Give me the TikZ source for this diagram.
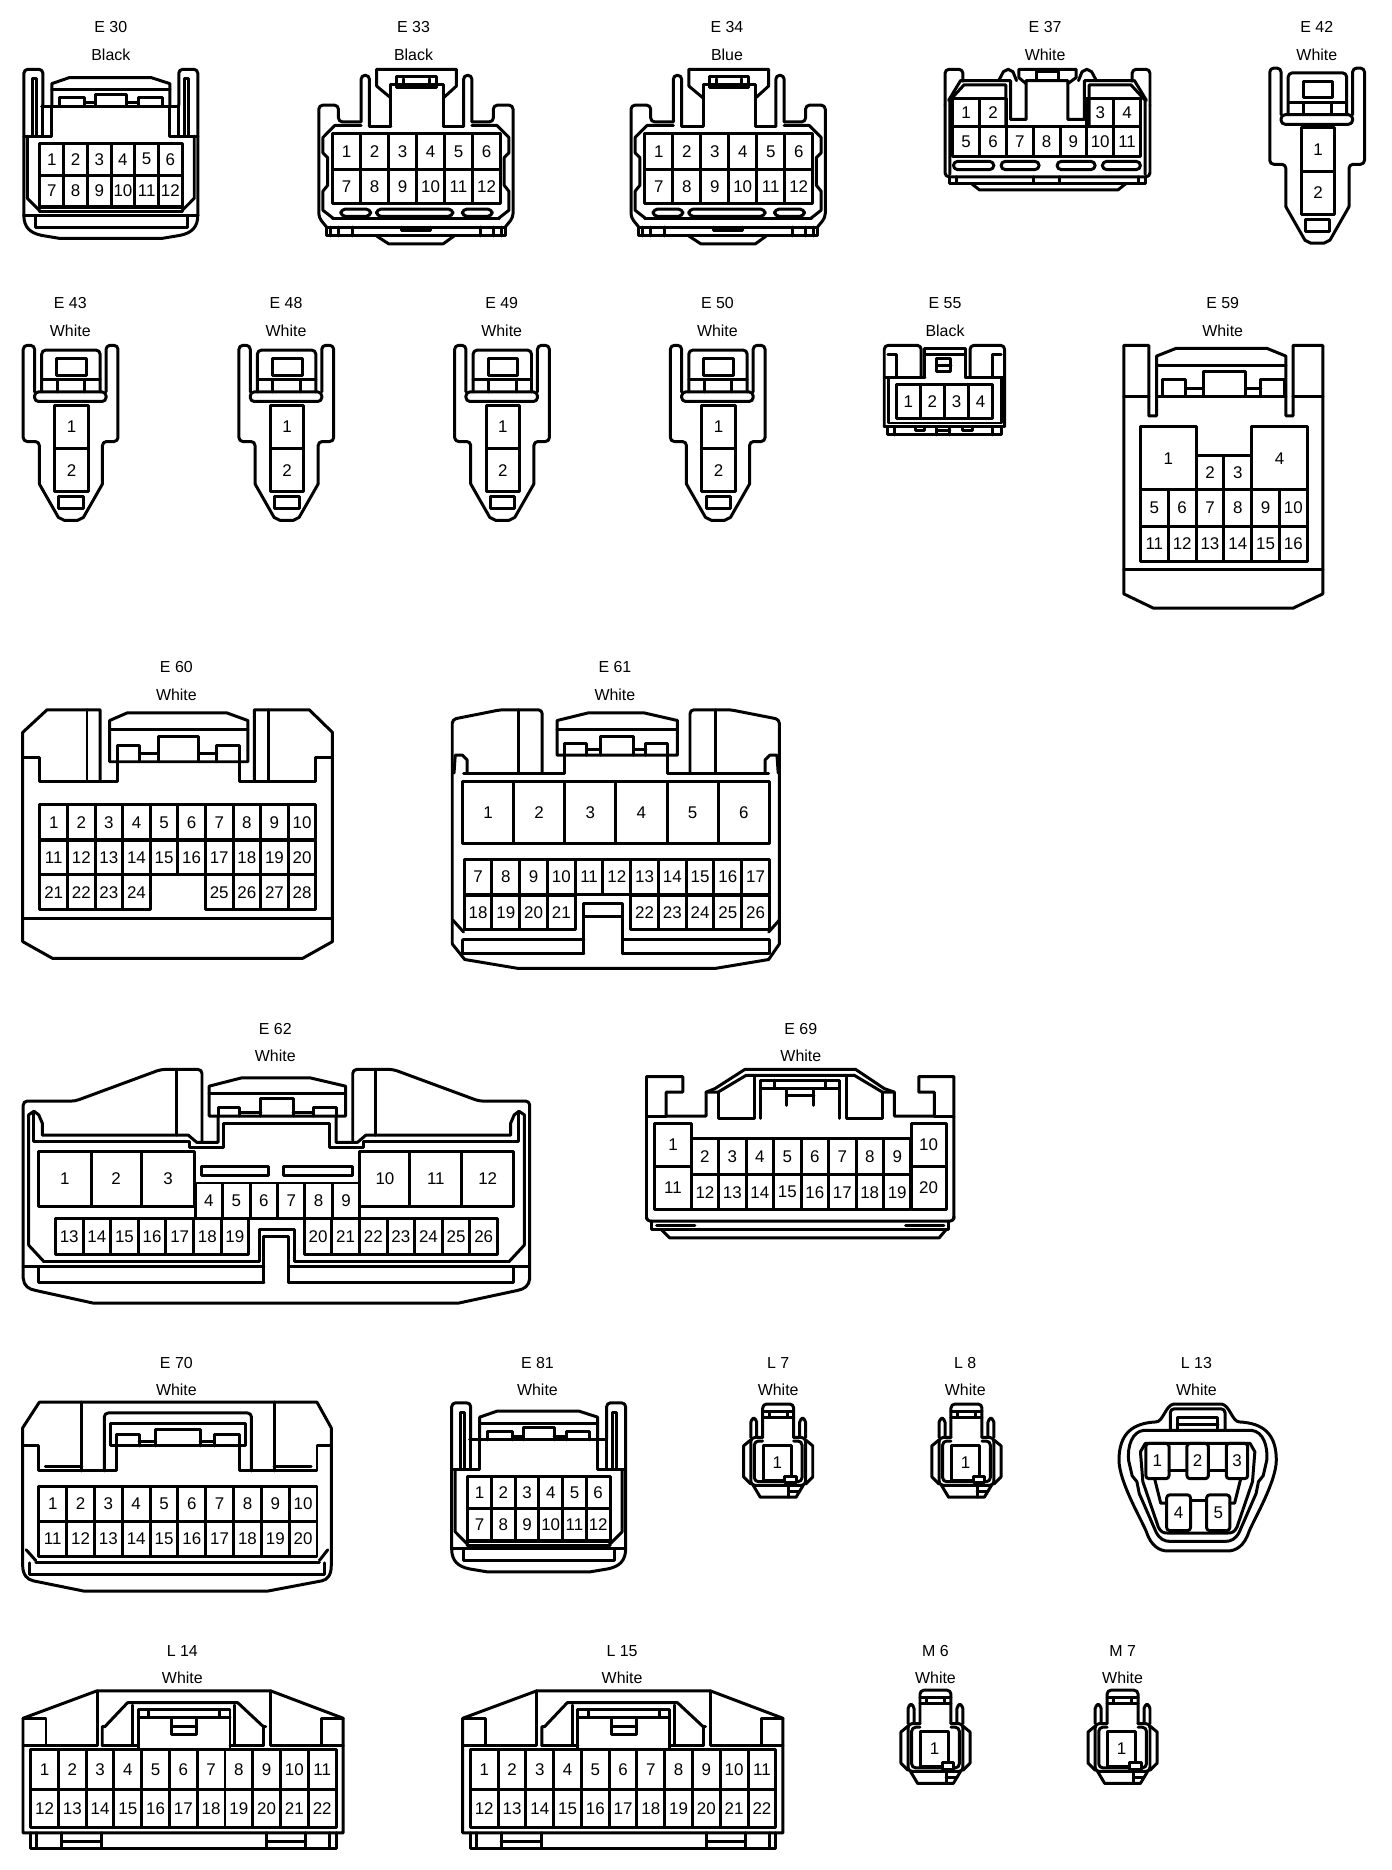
\documentclass[tikz,border=0pt]{standalone}
\usepackage{fontspec}
\setmainfont{Liberation Sans}
\def\upx{0.5984pt}
\tikzset{
  pinbox/.style={draw, rectangle, inner sep=0pt, outer sep=0pt, font=\fontsize{8.5}{10}\selectfont},
  tagtext/.style={inner sep=0pt, font=\fontsize{8}{10}\selectfont},
  roundpart/.style={rounded corners=2pt},
  slotpart/.style={rounded corners=2.2pt}
}
% prefix, x left, y top, cell width, cell height, first number, count
\newcommand{\pinrow}[7]{%
  \foreach \k in {1,...,#7}{%
    \pgfmathtruncatemacro{\num}{#6+\k-1}%
    \node[pinbox, minimum width={#4*\upx}, minimum height={#5*\upx}] (#1p\num)
      at ({#2+(\k-1)*#4+#4/2},{#3+#5/2}) {\num};
  }}
% one big cell with its own box
\newcommand{\pincell}[6]{%
  \node[pinbox, minimum width={(#4-#2)*\upx}, minimum height={(#5-#3)*\upx}] (#1p#6)
    at ({(#2+#4)/2},{(#3+#5)/2}) {#6};}
% name, x, y of first line, two texts
\newcommand{\conntag}[5]{%
  \node[tagtext] (#1t) at (#2,#3) {#4};
  \node[tagtext] (#1c) at (#2,#3+23) {#5};}

% E 30 and E 81
\newcommand{\latchhousing}[3]{%
  \begin{scope}[shift={(#2,#3)}]
    \draw[roundpart] (20,180) -- (20,58) -- (36,58) -- (36,88);
    \draw[roundpart] (166,180) -- (166,58) -- (150,58) -- (150,88);
    \draw (27.5,114) -- (27.5,66) -- (31,66) -- (31,114);
    \draw (158.5,114) -- (158.5,66) -- (155,66) -- (155,114);
    \draw (43.5,89) -- (43.5,70) -- (58,65) -- (127,65) -- (142.5,70) -- (142.5,89);
    \draw (43.5,75) -- (142.5,75);
    \draw (35,89) -- (150,89);
    \draw (50,89) -- (50,82) -- (71,82) -- (71,89);
    \draw (80,89) -- (80,79) -- (106,79) -- (106,89);
    \draw (116,89) -- (116,82) -- (136,82) -- (136,89);
    \draw (71,86) -- (80,86) (106,86) -- (116,86);
    \draw (36,88) -- (36,114) (43.5,89) -- (43.5,114) -- (20,114);
    \draw (150,88) -- (150,114) (142.5,89) -- (142.5,114) -- (166,114);
    \draw (23,114) -- (23,166) -- (34,177);
    \draw (163,114) -- (163,166) -- (152,177);
    \draw (33,174) -- (153,174) (33,177) -- (153,177);
    \draw (20,180) -- (166,180);
    \draw (30,180) rectangle (157,190);
    \draw (20,180) .. controls (20,190) and (25,195) .. (35,197) -- (50,199.5) -- (136,199.5) -- (151,197) .. controls (161,195) and (166,190) .. (166,180);
    \pinrow{#1a}{33.5}{120}{19.9}{26.5}{1}{6}
    \pinrow{#1b}{33.5}{146.5}{19.9}{26.5}{7}{6}
  \end{scope}}

% E 33 and E 34
\newcommand{\widehousing}[3]{%
  \begin{scope}[shift={(#2,#3)}]
    \draw (316,72) -- (316,58) -- (383,58) -- (383,72) -- (372,82);
    \draw (316,72) -- (328,82);
    \draw (333,64) rectangle (366,73);
    \draw (339,66) -- (339,72) (360,66) -- (360,72);
    \draw (328,105.5) -- (328,71) -- (372,71) -- (372,105.5);
    \draw (310,105.5) -- (328,105.5) (372,105.5) -- (389,105.5);
    \draw[roundpart] (303,102) -- (303,63) -- (310,63) -- (310,105.5);
    \draw[roundpart] (389,105.5) -- (389,63) -- (396,63) -- (396,102);
    \draw[roundpart] (303,102) -- (284,102) -- (284,88) -- (267.5,88) -- (267.5,182) -- (274,190);
    \draw[roundpart] (396,102) -- (414,102) -- (414,88) -- (430.5,88) -- (430.5,182) -- (424,190);
    \draw (303,105) -- (281,105) -- (271,115) -- (271,128) -- (275,132) -- (275,155) -- (271,160) -- (271,176) -- (280,183);
    \draw (396,105) -- (417,105) -- (427,115) -- (427,128) -- (423,132) -- (423,155) -- (427,160) -- (427,176) -- (418,183);
    \pinrow{#1a}{279}{112}{23.5}{30}{1}{6}
    \pinrow{#1b}{279}{142}{23.5}{28}{7}{6}
    \draw[slotpart] (286,175) rectangle (311,181);
    \draw[slotpart] (316,175) rectangle (380,181);
    \draw[slotpart] (388,175) rectangle (413,181);
    \draw (279,183) -- (419,183);
    \draw (274,190) -- (424,190) -- (424,197.5) -- (274,197.5) -- cycle;
    \draw (277,190) -- (277,197.5) (284,190) -- (284,197.5) (296,190) -- (296,197.5);
    \draw (421,190) -- (421,197.5) (414,190) -- (414,197.5) (403,190) -- (403,197.5);
    \draw (337,190) -- (337,193) -- (361,193) -- (361,190);
    \draw (316,197.5) -- (326,204) -- (372,204) -- (381,197.5);
  \end{scope}}

% E 42, E 43, E 48, E 49, E 50
\newcommand{\plugtwo}[3]{%
  \begin{scope}[shift={(#2,#3)}]
    \draw[roundpart] (29,328) -- (29,289) -- (19.5,289) -- (19.5,369.5) -- (33,369.5) -- (33,405);
    \draw[roundpart] (89,328) -- (89,289) -- (99,289) -- (99,369.5) -- (86,369.5) -- (86,405);
    \draw (33,405) -- (49,433) -- (54,435.5) -- (65,435.5) -- (70,433) -- (86,405);
    \draw[roundpart] (35,328) -- (35,293) -- (84,293) -- (84,328);
    \draw (47.5,300) rectangle (72.5,314);
    \draw (35,318) -- (84,318);
    \draw (48,318) -- (48,328) (71,318) -- (71,328);
    \draw[roundpart] (29,328) -- (29,336) -- (89,336) -- (89,328) -- cycle;
    \pinrow{#1a}{46}{339}{28}{36.5}{1}{1}
    \pinrow{#1b}{46}{375.5}{28}{36}{2}{1}
    \draw (49.5,415.5) rectangle (70,425.5);
  \end{scope}}

% L 7, L 8, M 6, M 7
\newcommand{\plugone}[3]{%
  \begin{scope}[shift={(#2,#3)}]
    \draw[roundpart] (640,1203) -- (640,1175) -- (666,1175) -- (666,1203);
    \draw (640,1181.5) -- (666,1181.5) (640,1186) -- (666,1186);
    \draw (645.5,1181.5) -- (645.5,1186) (660.5,1181.5) -- (660.5,1186);
    \draw[roundpart] (630,1203) -- (630,1187) -- (635,1187) -- (635,1203);
    \draw[roundpart] (671,1203) -- (671,1187) -- (676,1187) -- (676,1203);
    \draw (630,1205) -- (624,1210) -- (624,1236) -- (630,1242);
    \draw (676,1205) -- (682,1210) -- (682,1236) -- (676,1242);
    \draw[roundpart] (640,1203) -- (630,1203) -- (630,1243) -- (676,1243) -- (676,1203) -- (666,1203);
    \draw[roundpart] (640,1206) -- (633,1206) -- (633,1240) -- (673,1240) -- (673,1206) -- (666,1206);
    \pinrow{#1a}{640.5}{1209.5}{23.5}{29.5}{1}{1}
    \draw[fill=white] (658.5,1235.5) rectangle (668.5,1241);
    \draw (632,1243) -- (638,1253) -- (668,1253) -- (674,1243);
    \draw (662,1243) -- (662,1253) (662,1248) -- (671,1248);
  \end{scope}}

% L 14, L 15
\newcommand{\boxhousing}[3]{%
  \begin{scope}[shift={(#2,#3)}]
    \draw (19.3,1534) -- (19.3,1438) -- (81.5,1415) -- (227,1415) -- (288,1438) -- (288,1534) -- cycle;
    \draw (19.3,1438) -- (38.6,1438) -- (38.6,1461) (288,1438) -- (270,1438) -- (270,1461);
    \draw (19.3,1461) -- (81.5,1461) -- (81.5,1415) (288,1461) -- (227,1461) -- (227,1415);
    \draw (85.8,1461) -- (85.8,1445) -- (88,1445) -- (107,1425) -- (199.5,1425) -- (221,1445) -- (223,1445);
    \draw (221,1445) -- (221,1461);
    \draw (85.8,1461) -- (116,1461) (193,1461) -- (221,1461);
    \draw (111,1427) -- (111,1461) (197,1427) -- (197,1461);
    \draw (116,1464) -- (116,1431) -- (193,1431) -- (193,1464);
    \draw (116,1437.5) -- (193,1437.5) (125,1431) -- (125,1437.5) (184,1431) -- (184,1437.5);
    \draw (144,1437.5) -- (144,1451.5) -- (165,1451.5) -- (165,1437.5) (144,1445) -- (165,1445);
    \pinrow{#1a}{25.7}{1464}{23.3}{33.5}{1}{11}
    \pinrow{#1b}{25.7}{1497.5}{23.3}{32}{12}{11}
    \draw (25.7,1534) -- (25.7,1547) -- (282,1547) -- (282,1534);
    \draw (31,1534) -- (31,1547) (276.5,1534) -- (276.5,1547);
    \draw (51.5,1534) -- (51.5,1547) (85,1534) -- (85,1547) (51.5,1541) -- (85,1541);
    \draw (224,1534) -- (224,1547) (256.5,1534) -- (256.5,1547) (224,1541) -- (256.5,1541);
  \end{scope}}

\begin{document}
\begin{tikzpicture}[x=\upx, y=-0.6pt, line width=1.5pt, line cap=round, line join=round]
  \useasboundingbox (0,0) rectangle (1168,1565);

  % Tags
  \conntag{ea}{93}{22.5}{E 30}{Black}
  \conntag{eb}{347}{22.5}{E 33}{Black}
  \conntag{ec}{610}{22.5}{E 34}{Blue}
  \conntag{ed}{877}{22.5}{E 37}{White}
  \conntag{ee}{1105}{22.5}{E 42}{White}
  \conntag{ef}{59}{253.5}{E 43}{White}
  \conntag{eg}{240}{253.5}{E 48}{White}
  \conntag{eh}{421}{253.5}{E 49}{White}
  \conntag{ei}{602}{253.5}{E 50}{White}
  \conntag{ej}{793}{253.5}{E 55}{Black}
  \conntag{ek}{1026}{253.5}{E 59}{White}
  \conntag{el}{148}{558.5}{E 60}{White}
  \conntag{em}{516}{558.5}{E 61}{White}
  \conntag{en}{231}{861}{E 62}{White}
  \conntag{eo}{672}{861}{E 69}{White}
  \conntag{ep}{148}{1140.5}{E 70}{White}
  \conntag{eq}{451}{1140.5}{E 81}{White}
  \conntag{la}{653}{1140.5}{L 7}{White}
  \conntag{lb}{810}{1140.5}{L 8}{White}
  \conntag{lc}{1004}{1140.5}{L 13}{White}
  \conntag{ld}{153}{1381.5}{L 14}{White}
  \conntag{le}{522}{1381.5}{L 15}{White}
  \conntag{ma}{785}{1381.5}{M 6}{White}
  \conntag{mb}{942}{1381.5}{M 7}{White}

  % Repeated housings
  \latchhousing{ea}{0}{0}
  \latchhousing{eq}{359}{1116}
  \widehousing{eb}{0}{0}
  \widehousing{ec}{262}{0}
  \plugtwo{ee}{1046}{-232}
  \plugtwo{ef}{0}{0}
  \plugtwo{eg}{181}{0}
  \plugtwo{eh}{362}{0}
  \plugtwo{ei}{543}{0}
  \plugone{la}{0}{0}
  \plugone{lb}{158}{0}
  \plugone{ma}{132}{239.5}
  \plugone{mb}{289}{239.5}
  \boxhousing{ld}{0}{0}
  \boxhousing{le}{369}{0}

  % E 37
  \draw[roundpart] (793,88) -- (793,58) -- (808,58) -- (808,68);
  \draw[roundpart] (965,88) -- (965,58) -- (950,58) -- (950,68);
  \draw (796,84) -- (806,67.5) -- (848,67.5) -- (848,100) -- (861,100) -- (861,67.5) -- (896,67.5) -- (896,100) -- (910,100) -- (910,67.5) -- (952,67.5) -- (962,84);
  \draw (797,146) -- (797,84) -- (809,71) -- (844,71) -- (844,106) (914,106) -- (914,71) -- (949,71) -- (961,84) -- (961,146);
  \draw (838,67.5) -- (842,60) -- (846,58) -- (850,60) -- (853,67.5);
  \draw (905,67.5) -- (908,60) -- (912,58) -- (916,60) -- (920,67.5);
  \draw (861,70) -- (855,65) -- (855,58) -- (903,58) -- (903,65) -- (896,70);
  \draw (870,67) -- (870,60) -- (888,60) -- (888,67);
  \draw (866,67) -- (892,67);
  \pinrow{eda}{799.5}{82}{22.5}{24}{1}{2}
  \node[pinbox, minimum width={22.5*\upx}, minimum height={24*\upx}] (edp3) at (923.25,94) {3};
  \node[pinbox, minimum width={22.5*\upx}, minimum height={24*\upx}] (edp4) at (945.75,94) {4};
  \pinrow{edb}{799.5}{106}{22.5}{25}{5}{7}
  \draw[slotpart] (800,135) rectangle (834,142);
  \draw[slotpart] (840,135) rectangle (872,142);
  \draw[slotpart] (887,135) rectangle (919,142);
  \draw[slotpart] (925,135) rectangle (957,142);
  \draw[roundpart] (793,88) -- (793,148) -- (965,148) -- (965,88);
  \draw (797,148) -- (797,153.5) -- (961,153.5) -- (961,148);
  \draw (803,148) -- (803,153.5) (955,148) -- (955,153.5) (867.5,148) -- (867.5,153.5) (889,148) -- (889,153.5);
  \draw (815,153.5) -- (822,159) -- (938,159) -- (945,153.5);

  % E 55
  \draw[roundpart] (742,357) -- (742,289) -- (773,289) -- (773,316);
  \draw[roundpart] (843,357) -- (843,289) -- (814,289) -- (814,316);
  \draw (745,297) -- (752,297) -- (752,316) (840,297) -- (833,297) -- (833,316);
  \draw (776,316) -- (776,292) -- (810,292) -- (810,316);
  \draw (776,297) -- (810,297);
  \draw (786,300) rectangle (798,311) (786,305.5) -- (798,305.5);
  \draw (742,316) -- (776,316) (810,316) -- (843,316);
  \draw (745.5,316) -- (745.5,354) -- (840,354) -- (840,316);
  \pinrow{ej}{752}{321.5}{20.25}{28.5}{1}{4}
  \draw (742,357) -- (843,357);
  \draw (745,357) -- (745,364) -- (840,364) -- (840,357);
  \draw (751,357) -- (751,364) (833,357) -- (833,364);
  \draw (768,357) -- (768,360) -- (776,360) -- (776,357);
  \draw (786,357) -- (786,364) (797,357) -- (797,364) (786,360) -- (797,360);
  \draw (808,357) -- (808,360) -- (816,360) -- (816,357);

  % E 59
  \draw (964,331.5) -- (964,289) -- (943,289) -- (943,497) -- (968,509) -- (1085,509) -- (1110,497) -- (1110,289) -- (1085,289) -- (1085,331.5);
  \draw (964,331.5) -- (964,348) -- (970.5,348) -- (970.5,298) -- (987,291.5) -- (1063,291.5) -- (1079,298) -- (1079,348) -- (1085,348) -- (1085,331.5);
  \draw (943,331.5) -- (964,331.5) (970.5,331.5) -- (1079,331.5) (1085,331.5) -- (1110,331.5);
  \draw (970.5,305.5) -- (1079,305.5);
  \draw (975.5,331.5) -- (975.5,318) -- (995,318) -- (995,331.5);
  \draw (1010,331.5) -- (1010,311) -- (1045,311) -- (1045,331.5);
  \draw (1058,331.5) -- (1058,318) -- (1078,318) -- (1078,331.5);
  \draw (995,325) -- (1010,325) (1045,325) -- (1058,325);
  \draw (943,476.5) -- (1110,476.5);
  \pincell{ek}{957}{357}{1003.7}{410}{1}
  \pincell{ek}{1003.7}{381}{1027}{410}{2}
  \pincell{ek}{1027}{381}{1050.3}{410}{3}
  \pincell{ek}{1050.3}{357}{1097}{410}{4}
  \pinrow{ek}{957}{410}{23.33}{30.5}{5}{6}
  \pinrow{ek}{957}{440.5}{23.33}{29.5}{11}{6}

  % E 60
  \draw (19,634) -- (33.5,634) -- (33.5,654) -- (98.7,654) -- (98.7,637.5);
  \draw (279,634) -- (265,634) -- (265,654) -- (200.8,654) -- (200.8,637.5);
  \draw (19,788) -- (19,613) -- (39.5,594) -- (84,594) -- (84,654);
  \draw (279,788) -- (279,613) -- (259.5,594) -- (213.5,594) -- (213.5,654);
  \draw (73,594) -- (73,654) (225,594) -- (225,654);
  \draw (19,788) -- (44,802) -- (254,802) -- (279,788);
  \draw (92,637.5) -- (92,603) -- (107,596.5) -- (190,596.5) -- (208,603) -- (208,637.5) -- cycle;
  \draw (92,610.5) -- (208,610.5);
  \draw (98.7,637.5) -- (98.7,623.5) -- (117,623.5) -- (117,637.5);
  \draw (133,637.5) -- (133,616.5) -- (166.5,616.5) -- (166.5,637.5);
  \draw (182,637.5) -- (182,623.5) -- (200.8,623.5) -- (200.8,637.5);
  \draw (117,631) -- (133,631) (166.5,631) -- (182,631);
  \draw (19.5,768.5) -- (279,768.5);
  \pinrow{ela}{33.5}{673.5}{23.15}{29.5}{1}{10}
  \pinrow{elb}{33.5}{703}{23.15}{29}{11}{10}
  \pinrow{elc}{33.5}{732}{23.15}{29.5}{21}{4}
  \pinrow{eld}{172.4}{732}{23.15}{29.5}{25}{4}

  % E 61
  \draw[roundpart] (379.5,790) -- (379.5,602) -- (420,594) -- (455,594) -- (455,647);
  \draw[roundpart] (654,790) -- (654,602) -- (613,594) -- (579,594) -- (579,647);
  \draw (435.5,594) -- (435.5,647) (600.5,594) -- (600.5,647);
  \draw (389,647) -- (474,647) -- (474,630) (645,647) -- (560,647) -- (560,630);
  \draw (381,647) -- (382,632) -- (388,632) -- (392,636) -- (392,647);
  \draw (653,647) -- (652,632) -- (646,632) -- (642,636) -- (642,647);
  \draw (467.5,632) -- (467.5,603) -- (494,596.5) -- (540,596.5) -- (568.5,603) -- (568.5,632) -- cycle;
  \draw (467.5,610.5) -- (568.5,610.5);
  \draw (474,632) -- (474,622) -- (492,622) -- (492,632);
  \draw (504,632) -- (504,616) -- (532,616) -- (532,632);
  \draw (542,632) -- (542,622) -- (560,622) -- (560,632);
  \draw (492,627) -- (504,627) (532,627) -- (542,627);
  \pinrow{ema}{388}{654}{42.93}{52}{1}{6}
  \pinrow{emb}{389.5}{719}{23.29}{30}{7}{11}
  \pinrow{emc}{389.5}{749}{23.29}{29}{18}{4}
  \pinrow{emd}{529.2}{749}{23.29}{29}{22}{5}
  \draw (490,798) -- (490,756) -- (522.5,756) -- (522.5,798);
  \draw (490,767) -- (522.5,767);
  \draw (388.5,786.5) -- (388.5,798) -- (490,798) (388.5,786.5) -- (490,786.5);
  \draw (645.5,786.5) -- (645.5,798) -- (522.5,798) (645.5,786.5) -- (522.5,786.5);
  \draw (380,770) -- (389,780) (654,770) -- (645,780);
  \draw (379.5,790) -- (390,803) -- (435,810.5) -- (600,810.5) -- (645,803) -- (654,790);

  % E 62
  \draw[roundpart] (19.5,1070) -- (19.5,921.5) -- (63,921.5) -- (135,895) -- (169.5,895) -- (169.5,955);
  \draw[roundpart] (444.5,1070) -- (444.5,921.5) -- (402,921.5) -- (330,895) -- (296,895) -- (296,955);
  \draw (148.5,895) -- (148.5,950) (315.5,895) -- (315.5,950);
  \draw (24,1042) -- (24,933) -- (28.5,930) -- (32.5,933) -- (35.5,940) -- (35.5,950) -- (158,950) -- (165,956) -- (183,956) -- (183,934);
  \draw (440,1042) -- (440,933) -- (435.5,930) -- (431.5,933) -- (428.5,940) -- (428.5,950) -- (307,950) -- (300,956) -- (282,956) -- (282,934);
  \draw (28.5,930) -- (28.5,955) -- (159,955) -- (159,960) -- (187.5,960) -- (187.5,940) -- (276.5,940) -- (276.5,960) -- (305,960) -- (305,955) -- (435.5,955) -- (435.5,930);
  \draw (175.5,934) -- (175.5,909) -- (203,902) -- (260,902) -- (290,909) -- (290,934) -- cycle;
  \draw (175.5,915) -- (290,915);
  \draw (183,934) -- (183,927) -- (201,927) -- (201,934);
  \draw (219,934) -- (219,919) -- (246,919) -- (246,934);
  \draw (263,934) -- (263,927) -- (282,927) -- (282,934);
  \draw (201,931) -- (219,931) (246,931) -- (263,931);
  \pincell{en}{32.5}{963.5}{76.5}{1010}{1}
  \pincell{en}{76.5}{963.5}{118.5}{1010}{2}
  \pincell{en}{118.5}{963.5}{163.5}{1010}{3}
  \pincell{en}{302}{963.5}{344}{1010}{10}
  \pincell{en}{344}{963.5}{387.5}{1010}{11}
  \pincell{en}{387.5}{963.5}{431}{1010}{12}
  \draw (169,976) rectangle (225.5,984);
  \draw (238,976) rectangle (295.5,984);
  \pinrow{ena}{163.7}{990}{23.05}{30}{4}{6}
  \pinrow{enb}{46.5}{1020}{23.17}{30}{13}{7}
  \pinrow{enc}{255.3}{1020}{23.17}{30}{20}{7}
  \draw (37,1056) -- (218,1056) -- (218,1029) -- (247,1029) -- (247,1056) -- (427,1056);
  \draw (19.5,1060) -- (221.5,1060) (242.5,1060) -- (444.5,1060);
  \draw (221.5,1073.5) -- (221.5,1034.5) -- (242.5,1034.5) -- (242.5,1073.5);
  \draw (32.5,1060) -- (32.5,1073.5) -- (221.5,1073.5);
  \draw (431,1060) -- (431,1073.5) -- (242.5,1073.5);
  \draw (24,1042) -- (37,1056) (440,1042) -- (427,1056);
  \draw (19.5,1070) .. controls (20,1076) and (24,1079) .. (30,1080) -- (78,1090.5) -- (385,1090.5) -- (434,1080) .. controls (440,1079) and (444,1076) .. (444.5,1070);

  % E 69
  \draw[roundpart] (542.5,1018) -- (542.5,1022) -- (800.5,1022) -- (800.5,1018);
  \draw (542.5,1020) -- (542.5,901) -- (573,901) -- (573,914) -- (559,914) -- (559,934) -- (592.5,934) -- (592.5,914) -- (600,911) -- (625,895) -- (718,895) -- (742,911) -- (750.5,914) -- (750.5,934) -- (784,934) -- (784,914) -- (771,914) -- (771,901) -- (800.5,901) -- (800.5,1020);
  \draw (542.5,934) -- (559,934) (784,934) -- (800.5,934);
  \draw (592.5,914) -- (602.5,914) -- (626,900) -- (717,900) -- (740.5,914) -- (750.5,914);
  \draw (602.5,914) -- (602.5,936) -- (633,936) -- (633,901);
  \draw (740.5,914) -- (740.5,936) -- (710,936) -- (710,901);
  \draw (638.5,936) -- (638.5,904) -- (704.5,904) -- (704.5,936);
  \draw (638.5,911) -- (704.5,911) (650,904) -- (650,911) (693,904) -- (693,911);
  \draw (660,911) -- (660,925) (683,911) -- (683,925) (660,916.5) -- (683,916.5);
  \pincell{eo}{549.5}{940}{580}{976}{1}
  \pincell{eo}{549.5}{976}{580}{1012.5}{11}
  \pincell{eo}{764.5}{940}{794}{976}{10}
  \pincell{eo}{764.5}{976}{794}{1012.5}{20}
  \pinrow{eoa}{580}{952.5}{23.05}{30.5}{2}{8}
  \pinrow{eob}{580}{983}{23.05}{29.5}{12}{8}
  \draw (547,1022) -- (547,1029) -- (796,1029) -- (796,1022);
  \draw (551,1025.5) -- (583,1025.5) (760,1025.5) -- (792,1025.5);
  \draw (555,1029) -- (562,1036) -- (788,1036) -- (794,1029);

  % E 70
  \draw (19,1310) -- (19,1195) -- (33,1173.5) -- (266,1173.5) -- (278,1195) -- (278,1310);
  \draw (19,1210) -- (32.5,1210) -- (32.5,1231) -- (97.8,1231) -- (97.8,1210);
  \draw (278,1210) -- (266,1210) -- (266,1231) -- (200.8,1231) -- (200.8,1210);
  \draw (68.7,1173.5) -- (68.7,1231) (230,1173.5) -- (230,1231);
  \draw (38,1227) -- (68.7,1227) (230,1227) -- (261,1227);
  \draw[roundpart] (87.5,1231) -- (87.5,1182.5) -- (211,1182.5) -- (211,1231);
  \draw (92.7,1210) -- (92.7,1191) -- (206,1191) -- (206,1210) -- cycle;
  \draw (97.8,1210) -- (97.8,1200.5) -- (116.7,1200.5) -- (116.7,1210);
  \draw (130.5,1210) -- (130.5,1196) -- (168,1196) -- (168,1210);
  \draw (180,1210) -- (180,1200.5) -- (200.8,1200.5) -- (200.8,1210);
  \draw (116.7,1206) -- (130.5,1206) (168,1206) -- (180,1206);
  \pinrow{epa}{32.6}{1243.8}{23.34}{29.2}{1}{10}
  \pinrow{epb}{32.6}{1273}{23.34}{29.4}{11}{10}
  \draw (22,1297) -- (30,1306) (275,1297) -- (268,1306);
  \draw (30,1308) -- (268,1308);
  \draw (25,1308) -- (25,1317.5) -- (272,1317.5) -- (272,1308);
  \draw (19,1310) .. controls (19,1318) and (23,1322) .. (28,1323) -- (70,1331.5) -- (225,1331.5) -- (270,1323) .. controls (275,1322) and (278,1318) .. (278,1310);

  % L 13
  \draw (985,1175) -- (1025,1175) .. controls (1032,1176) and (1034,1190) .. (1040,1190) .. controls (1060,1191) and (1071,1200) .. (1071,1222) .. controls (1071,1240) and (1052,1272) .. (1048,1282) .. controls (1044,1294) and (1037,1298) .. (1030,1298) -- (980,1298) .. controls (973,1298) and (966,1294) .. (962,1282) .. controls (958,1272) and (939,1240) .. (939,1222) .. controls (939,1200) and (950,1191) .. (970,1190) .. controls (976,1190) and (978,1176) .. (985,1175);
  \draw (960,1197) -- (1050,1197) .. controls (1060,1198) and (1064,1210) .. (1063,1222) -- (1060,1235) -- (1056,1240) -- (1054,1250) -- (1040,1282) .. controls (1037,1288) and (1033,1290) .. (1028,1290) -- (982,1290) .. controls (977,1290) and (973,1288) .. (970,1282) -- (956,1250) -- (954,1240) -- (950,1235) -- (947,1222) .. controls (946,1210) and (950,1198) .. (960,1197);
  \draw (961,1208) -- (1049,1208) -- (1053,1215) -- (1051,1240) -- (1038,1278) .. controls (1036,1282) and (1034,1283) .. (1030,1283) -- (980,1283) .. controls (976,1283) and (974,1282) .. (972,1278) -- (959,1240) -- (957,1215) -- cycle;
  \draw[roundpart] (982,1197) -- (982,1179) -- (1028,1179) -- (1028,1197);
  \draw (988,1197) -- (988,1186) -- (1022,1186) -- (1022,1197) (988,1192) -- (1022,1192);
  \begin{scope}[every node/.append style={fill=white, rounded corners=1.5pt}]
    \pincell{lc}{961.5}{1208}{981}{1237.5}{1}
    \pincell{lc}{996}{1208}{1014}{1237.5}{2}
    \pincell{lc}{1029}{1208}{1047}{1237.5}{3}
    \pincell{lc}{979}{1251}{999}{1281}{4}
    \pincell{lc}{1012.5}{1251}{1032}{1281}{5}
  \end{scope}
  \draw (981,1231) -- (996,1231) (1014,1231) -- (1029,1231);
  \draw (999,1256) -- (1012.5,1256);
  \draw (969,1238) -- (974,1258) -- (979,1258) (1041,1238) -- (1036,1258) -- (1032,1258);
\end{tikzpicture}
\end{document}
